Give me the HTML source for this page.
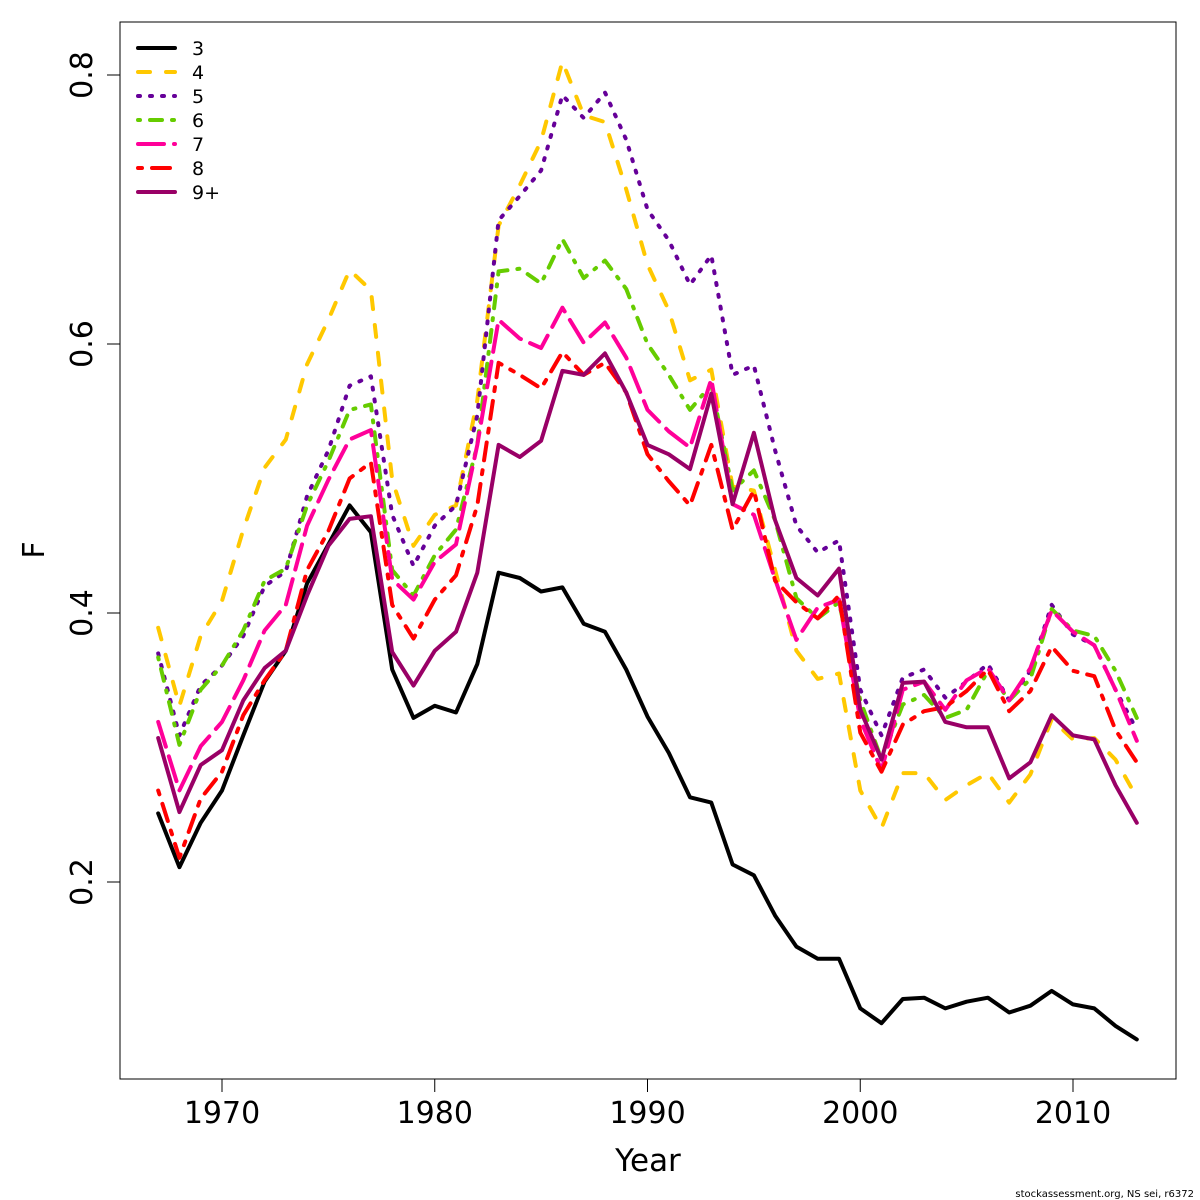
<!DOCTYPE html>
<html><head><meta charset="utf-8"><style>
html,body{margin:0;padding:0;background:#fff;overflow:hidden;}
svg{display:block;}
svg text{font-family:"DejaVu Sans","Liberation Sans",sans-serif;fill:#000;}
</style></head><body>
<svg id="chart" width="1200" height="1200" xmlns="http://www.w3.org/2000/svg">
<rect x="0" y="0" width="1200" height="1200" fill="#fff"/>
<rect x="120" y="22" width="1056" height="1057" fill="none" stroke="#000" stroke-width="1"/>
<g id="axes"></g>
<g id="series"></g>
<g id="legend"></g>
<text x="648" y="1171" font-size="31" text-anchor="middle">Year</text>
<text transform="translate(44,550) rotate(-90)" font-size="30" text-anchor="middle">F</text>
<text x="1194" y="1197" font-size="10" text-anchor="end">stockassessment.org, NS sei, r6372</text>
</svg>
<script>
const years=[];for(let y=1967;y<=2013;y++)years.push(y);
const xTicks=[1970,1980,1990,2000,2010];
const yTicks=[0.2,0.4,0.6,0.8];
const seriesNames=["3","4","5","6","7","8","9+"];
const f3=[0.251,0.211,0.244,0.268,0.309,0.349,0.372,0.422,0.451,0.480,0.460,0.358,0.322,0.331,0.326,0.362,0.430,0.426,0.416,0.419,0.392,0.386,0.358,0.323,0.296,0.263,0.259,0.213,0.205,0.175,0.152,0.143,0.143,0.106,0.095,0.113,0.114,0.106,0.111,0.114,0.103,0.108,0.119,0.109,0.106,0.093,0.083];
const f4=[0.389,0.331,0.383,0.409,0.462,0.508,0.529,0.585,0.618,0.655,0.640,0.499,0.450,0.473,0.480,0.558,0.688,0.718,0.751,0.810,0.770,0.765,0.715,0.659,0.625,0.573,0.581,0.494,0.491,0.432,0.372,0.351,0.355,0.268,0.240,0.281,0.281,0.261,0.272,0.281,0.259,0.280,0.321,0.306,0.307,0.291,0.263];
const f5=[0.370,0.309,0.346,0.361,0.383,0.420,0.431,0.487,0.521,0.569,0.576,0.473,0.435,0.465,0.480,0.547,0.692,0.710,0.729,0.785,0.768,0.787,0.752,0.700,0.677,0.644,0.666,0.577,0.584,0.521,0.465,0.445,0.454,0.343,0.309,0.352,0.358,0.337,0.349,0.362,0.335,0.357,0.406,0.384,0.376,0.343,0.313];
const f6=[0.367,0.302,0.343,0.361,0.387,0.424,0.433,0.480,0.513,0.551,0.555,0.432,0.413,0.443,0.462,0.525,0.654,0.656,0.645,0.678,0.649,0.662,0.641,0.600,0.577,0.551,0.570,0.491,0.506,0.469,0.411,0.396,0.408,0.335,0.291,0.332,0.339,0.322,0.328,0.357,0.335,0.351,0.403,0.387,0.383,0.357,0.322];
const f7=[0.319,0.268,0.301,0.319,0.350,0.387,0.406,0.465,0.499,0.529,0.536,0.425,0.410,0.438,0.451,0.525,0.618,0.604,0.597,0.627,0.601,0.616,0.590,0.551,0.535,0.523,0.574,0.481,0.473,0.425,0.380,0.404,0.410,0.321,0.283,0.343,0.349,0.328,0.350,0.359,0.335,0.359,0.402,0.386,0.376,0.343,0.305];
const f8=[0.268,0.218,0.262,0.282,0.324,0.350,0.372,0.432,0.461,0.500,0.512,0.406,0.381,0.410,0.428,0.480,0.586,0.577,0.567,0.594,0.577,0.586,0.564,0.518,0.498,0.480,0.525,0.462,0.491,0.424,0.408,0.396,0.413,0.311,0.282,0.317,0.327,0.330,0.342,0.358,0.327,0.342,0.375,0.357,0.353,0.313,0.289];
const f9=[0.307,0.252,0.287,0.298,0.335,0.359,0.372,0.413,0.450,0.470,0.472,0.371,0.346,0.372,0.386,0.430,0.525,0.516,0.528,0.580,0.577,0.593,0.564,0.525,0.518,0.507,0.563,0.481,0.534,0.469,0.426,0.413,0.433,0.328,0.291,0.348,0.349,0.319,0.315,0.315,0.277,0.289,0.324,0.309,0.306,0.272,0.244];
const allSeries=[f3,f4,f5,f6,f7,f8,f9];
const colors=["#000000","#FFC800","#660099","#66CC00","#FF0099","#FF0000","#990066"];
const dashes=["","12 16","2 10","2 10 12 10","26 10","4 10 18 10",""];
const NS="http://www.w3.org/2000/svg";
function X(yr){return 222+(yr-1970)*21.275;}
function Y(v){return 882-(v-0.2)*1345;}
function mk(tag,attrs,parent){const e=document.createElementNS(NS,tag);for(const k in attrs)e.setAttribute(k,attrs[k]);parent.appendChild(e);return e;}
const axes=document.getElementById('axes');
const xl=mk('line',{x1:X(1970),x2:X(2010),y1:1079,y2:1079,stroke:'#000'},axes);


xTicks.forEach(t=>{
 const l=mk('line',{x1:X(t),x2:X(t),y1:1079,y2:1092,stroke:'#000'},axes);
 
 
 const tx=mk('text',{x:X(t),y:1123,'font-size':30,'text-anchor':'middle'},axes);tx.textContent=t;
 
 
});
const yl=mk('line',{x1:120,x2:120,y1:Y(0.2),y2:Y(0.8),stroke:'#000'},axes);


yTicks.forEach(t=>{
 const l=mk('line',{x1:107,x2:120,y1:Y(t),y2:Y(t),stroke:'#000'},axes);
 
 
 const tx=mk('text',{transform:`translate(92,${Y(t)}) rotate(-90)`,'font-size':30,'text-anchor':'middle'},axes);tx.textContent=t.toFixed(1);
 
 
});
const sg=document.getElementById('series');
allSeries.forEach((s,i)=>{
 const d=s.map((v,j)=>(j?'L':'M')+X(years[j]).toFixed(1)+','+Y(v).toFixed(1)).join(' ');
 const p=mk('path',{d:d,fill:'none',stroke:colors[i],'stroke-width':4,'stroke-linejoin':'round','stroke-linecap':'round'},sg);
 if(dashes[i])p.setAttribute('stroke-dasharray',dashes[i]);
 
 
});
const lg=document.getElementById('legend');
seriesNames.forEach((n,i)=>{
 const y=48+i*24;
 const l=mk('line',{x1:138,x2:175,y1:y,y2:y,stroke:colors[i],'stroke-width':4,'stroke-linecap':'round'},lg);
 if(dashes[i])l.setAttribute('stroke-dasharray',dashes[i]);
 
 
 const t=mk('text',{x:192,y:y+7,'font-size':19},lg);t.textContent=n;
 
 
});
</script>
</body></html>
